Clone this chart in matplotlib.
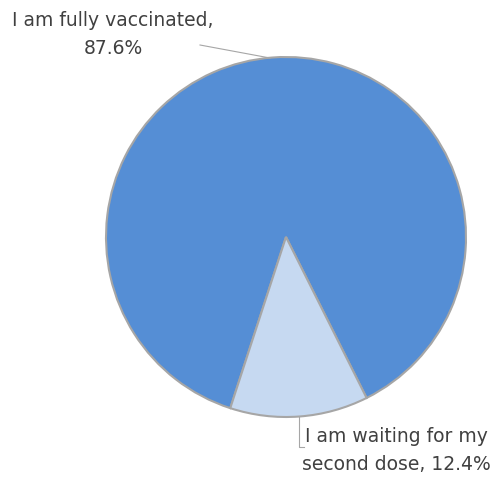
import matplotlib.pyplot as plt

# Vaccination status shares
labels = ["I am fully vaccinated", "I am waiting for my\nsecond dose"]
shares = [87.6, 12.4]
colors = ["#558ED5", "#C6D9F1"]

W, H = 495, 481
fig = plt.figure(figsize=(W / 100, H / 100), dpi=100)
ax = fig.add_axes([0, 0, 1, 1])

# pie drawn in pixel coordinates (y up)
cx, cy, r = 286, H - 238, 180
ax.pie(shares, colors=colors, startangle=-63.4, center=(cx, cy), radius=r,
       wedgeprops=dict(edgecolor="#A6A6A6", linewidth=1.5), frame=True)
ax.set_xlim(0, W)
ax.set_ylim(0, H)
ax.set_aspect("equal")
ax.axis("off")

txt = dict(color="#404040", fontsize=13.5, family="DejaVu Sans", linespacing=1.6)

ax.text(113, H - 34, "{0},\n{1}%".format(labels[0], shares[0]),
        ha="center", va="center", **txt)
ax.plot([200, 270], [H - 46, H - 59], color="#A6A6A6", lw=0.8)

ax.text(396, H - 451, "{0}, {1}%".format(labels[1], shares[1]),
        ha="center", va="center", **txt)
ax.plot([299, 299, 304], [H - 418, H - 448, H - 448], color="#A6A6A6", lw=0.8)

plt.savefig("out.png", dpi=100)
